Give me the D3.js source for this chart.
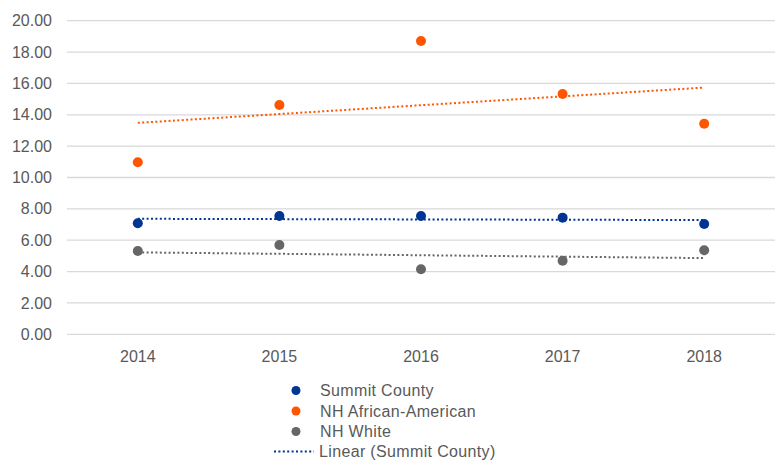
<!DOCTYPE html>
<html>
<head>
<meta charset="utf-8">
<script src="https://cdn.jsdelivr.net/npm/d3@7/dist/d3.min.js"></script>
<style>
  html, body { margin: 0; padding: 0; background: #fff; }
  svg { display: block; }
  text { font-family: "Liberation Sans", Arial, sans-serif; fill: #595959; }
</style>
</head>
<body>
<svg id="chart" width="780" height="461"></svg>
<script>
// Rates by year for each population group
const years = ["2014", "2015", "2016", "2017", "2018"];
const summitCounty = [7.08, 7.54, 7.54, 7.44, 7.03];
const nhAfricanAmerican = [10.97, 14.62, 18.70, 15.33, 13.43];
const nhWhite = [5.31, 5.70, 4.15, 4.69, 5.36];
const yTicks = [0, 2, 4, 6, 8, 10, 12, 14, 16, 18, 20];

const series = [
  { name: "Summit County", values: summitCounty, color: "#003594" },
  { name: "NH African-American", values: nhAfricanAmerican, color: "#ff5500" },
  { name: "NH White", values: nhWhite, color: "#666666" }
];

const svg = d3.select("#chart");
const margin = { left: 67, right: 5, top: 20.7, bottom: 126.7 };
const W = 780, H = 461;
const fontSize = "16px";

const x = d3.scaleBand().domain(years).range([margin.left, W - margin.right]);
const y = d3.scaleLinear().domain([0, 20]).range([H - margin.bottom, margin.top]);
const cx = d => x(d) + x.bandwidth() / 2;

// Horizontal gridlines
svg.append("g")
  .selectAll("line")
  .data(yTicks)
  .join("line")
  .attr("x1", margin.left)
  .attr("x2", W - margin.right)
  .attr("y1", d => y(d))
  .attr("y2", d => y(d))
  .attr("stroke", "#d9d9d9")
  .attr("stroke-width", 1.3);

// Y axis labels
const yAxis = d3.axisLeft(y).tickValues(yTicks).tickFormat(d3.format(".2f")).tickSize(0).tickPadding(15);
const gy = svg.append("g").attr("transform", `translate(${margin.left},0)`).call(yAxis);
gy.select(".domain").remove();
gy.selectAll("text").style("font-size", fontSize).attr("fill", "#595959");

// X axis labels
const xAxis = d3.axisBottom(x).tickSize(0).tickPadding(16);
const gx = svg.append("g").attr("transform", `translate(0,${y(0)})`).call(xAxis);
gx.select(".domain").remove();
gx.selectAll("text").style("font-size", fontSize).attr("fill", "#595959");
svg.selectAll(".tick text").attr("font-family", null);
gy.attr("font-family", null);
gx.attr("font-family", null);

// Least-squares linear trend over the year index
function linearFit(vals) {
  const n = vals.length;
  const xs = vals.map((_, i) => i);
  const mx = d3.mean(xs), my = d3.mean(vals);
  let num = 0, den = 0;
  xs.forEach((xi, i) => { num += (xi - mx) * (vals[i] - my); den += (xi - mx) ** 2; });
  const b = num / den;
  const a = my - b * mx;
  return [a, a + b * (n - 1)];
}

// Trendlines
series.forEach(s => {
  const [v0, v1] = linearFit(s.values);
  svg.append("line")
    .attr("x1", cx(years[0]))
    .attr("x2", cx(years[years.length - 1]))
    .attr("y1", y(v0))
    .attr("y2", y(v1))
    .attr("stroke", s.color)
    .attr("stroke-width", 2)
    .attr("stroke-dasharray", "2,2.4");
});

// Points
series.forEach(s => {
  svg.append("g")
    .selectAll("circle")
    .data(s.values)
    .join("circle")
    .attr("cx", (d, i) => cx(years[i]))
    .attr("cy", d => y(d))
    .attr("r", 5)
    .attr("fill", s.color);
});

// Legend
const legend = svg.append("g").style("letter-spacing", "0.35px");
const legendRows = [390.5, 411, 431.5, 451.5];
series.forEach((s, i) => {
  legend.append("circle").attr("cx", 296).attr("cy", legendRows[i]).attr("r", 4.5).attr("fill", s.color);
  legend.append("text").attr("x", 320).attr("y", legendRows[i]).attr("dy", "0.35em")
    .style("font-size", fontSize).text(s.name);
});
legend.append("line")
  .attr("x1", 274).attr("x2", 314)
  .attr("y1", legendRows[3]).attr("y2", legendRows[3])
  .attr("stroke", series[0].color).attr("stroke-width", 2).attr("stroke-dasharray", "2,2.4");
legend.append("text").attr("x", 319).attr("y", legendRows[3]).attr("dy", "0.35em")
  .style("font-size", fontSize).text("Linear (Summit County)");
</script>
</body>
</html>
